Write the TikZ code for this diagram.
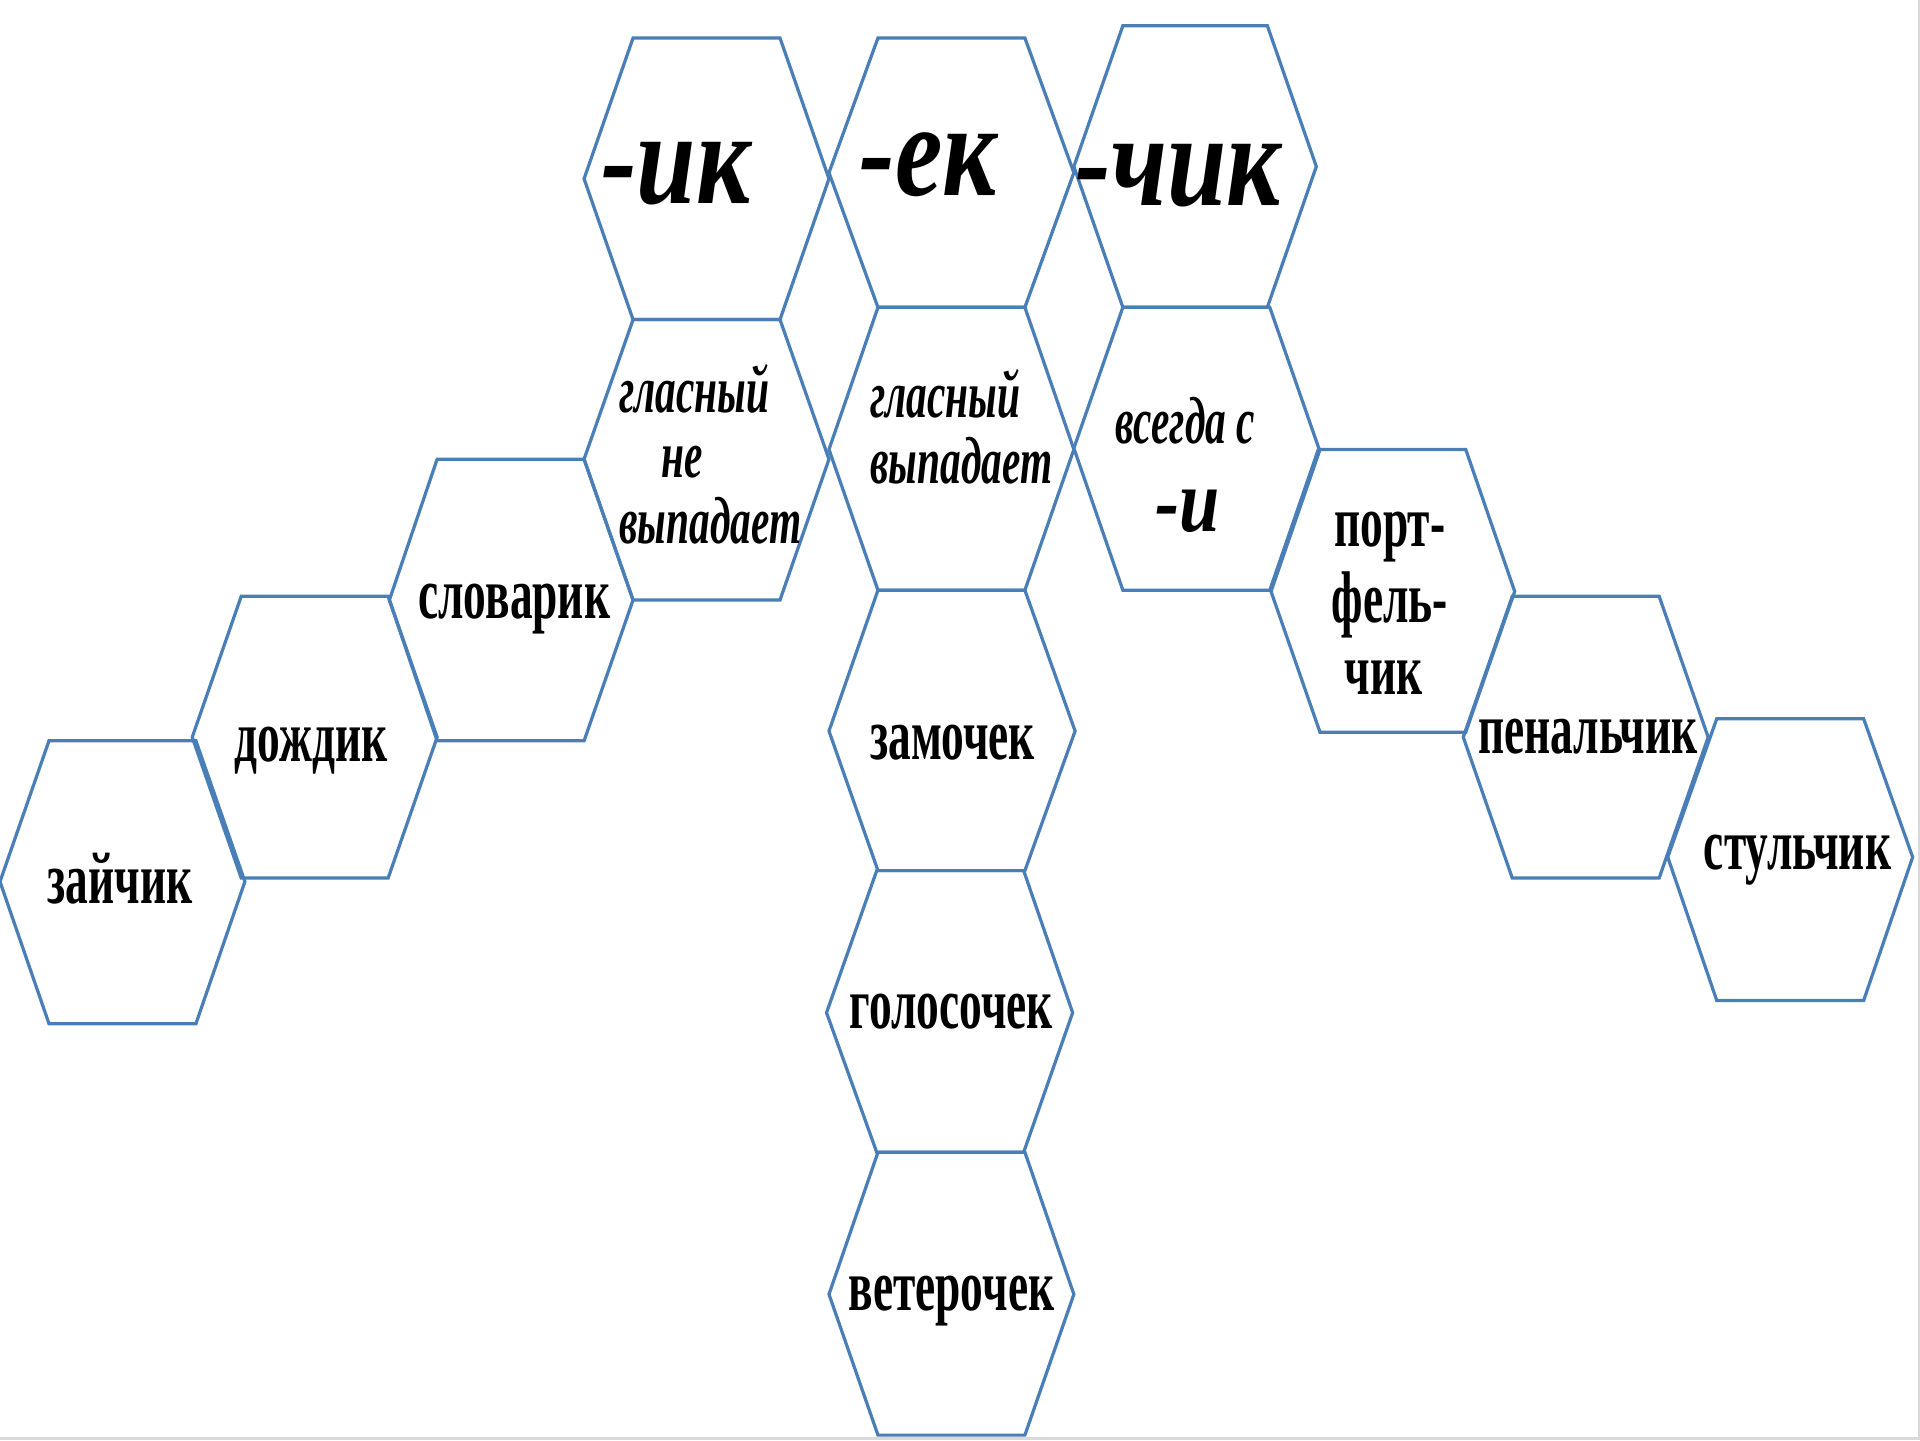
\documentclass[tikz,border=0pt]{standalone}
\usepackage{fontspec}
\setmainfont{Liberation Serif}
\newfontfamily\wordfont{Liberation Serif}[FakeStretch=0.62]
\newfontfamily\suffont{Liberation Serif}[FakeStretch=0.8]
\definecolor{hexblue}{RGB}{74,126,182}
\definecolor{slideedge}{RGB}{217,217,217}

\begin{document}
\begin{tikzpicture}[x=0.1mm, y=-0.1mm,
  hexline/.style={draw=hexblue, line width=0.75pt, line join=miter},
  word/.style={anchor=base, inner sep=0pt, font=\wordfont\bfseries\fontsize{17}{17}\selectfont},
  note/.style={anchor=base, inner sep=0pt, font=\wordfont\bfseries\itshape\fontsize{15.5}{15.5}\selectfont},
  suffix/.style={anchor=base, inner sep=0pt, font=\suffont\bfseries\itshape\fontsize{31}{31}\selectfont}]
\useasboundingbox (0,0) rectangle (1568,1176);
\fill[slideedge] (1566,0) rectangle (1568,1176);
\fill[slideedge] (0,1173.5) rectangle (1568,1176);

% top row
\draw[hexline] (517,31) -- (637,31) -- (677,146) -- (637,261) -- (517,261) -- (477,146) -- cycle;
\draw[hexline] (717,31) -- (837,31) -- (877,141) -- (837,251) -- (717,251) -- (677,141) -- cycle;
\draw[hexline] (917,21) -- (1035,21) -- (1075,136) -- (1035,251) -- (917,251) -- (877,136) -- cycle;
% rules
\draw[hexline] (517,261) -- (637,261) -- (677,375) -- (637,490) -- (517,490) -- (477,375) -- cycle;
\draw[hexline] (717,251) -- (837,251) -- (877,367) -- (837,482) -- (717,482) -- (677,367) -- cycle;
\draw[hexline] (917,251) -- (1037,251) -- (1077,366) -- (1037,482) -- (917,482) -- (877,366) -- cycle;
% -ik words
\draw[hexline] (357,375) -- (477,375) -- (517,490) -- (477,605) -- (357,605) -- (318,490) -- cycle;
\draw[hexline] (197,487) -- (317,487) -- (357,602) -- (317,717) -- (197,717) -- (157,602) -- cycle;
\draw[hexline] (40,605) -- (160,605) -- (200,720) -- (160,836) -- (40,836) -- (0,720) -- cycle;
% -ek words
\draw[hexline] (717,482) -- (837,482) -- (878,597) -- (837,711) -- (717,711) -- (677,597) -- cycle;
\draw[hexline] (716,711) -- (836,711) -- (876,827) -- (836,941) -- (716,941) -- (675,827) -- cycle;
\draw[hexline] (717,941) -- (837,941) -- (877,1057) -- (837,1172) -- (717,1172) -- (677,1057) -- cycle;
% -chik words
\draw[hexline] (1078,367) -- (1197,367) -- (1237,483) -- (1197,598) -- (1078,598) -- (1038,483) -- cycle;
\draw[hexline] (1235,487) -- (1355,487) -- (1395,602) -- (1355,717) -- (1235,717) -- (1195,602) -- cycle;
\draw[hexline] (1402,587) -- (1522,587) -- (1562,700) -- (1522,817) -- (1402,817) -- (1362,700) -- cycle;

\node[suffix] (ik) at (552,166) {-ик};
\node[suffix] (ek) at (758,160) {-ек};
\node[suffix] (chik) at (962,168) {-чик};

\node[note] (ruleA1) at (567,337) {гласный};
\node[note] (ruleA2) at (557,390) {не};
\node[note] (ruleA3) at (580,444) {выпадает};
\node[note] (ruleB1) at (772,341) {гласный};
\node[note] (ruleB2) at (785,395) {выпадает};
\node[note] (ruleC1) at (968,362) {всегда с};
\node[note, font=\suffont\bfseries\itshape\fontsize{21}{21}\selectfont] (ruleC2) at (970,434) {-и};

\node[word] (slovarik) at (420,505) {словарик};
\node[word] (dozhdik) at (254,622) {дождик};
\node[word] (zajchik) at (98,738) {зайчик};
\node[word] (zamochek) at (778,620) {замочек};
\node[word] (golosochek) at (777,840) {голосочек};
\node[word] (veterochek) at (777,1070) {ветерочек};
\node[word] (port1) at (1135,446) {порт-};
\node[word] (port2) at (1135,508) {фель-};
\node[word] (port3) at (1130,567) {чик};
\node[word] (penalchik) at (1297,615) {пенальчик};
\node[word] (stulchik) at (1468,710) {стульчик};
\end{tikzpicture}
\end{document}
